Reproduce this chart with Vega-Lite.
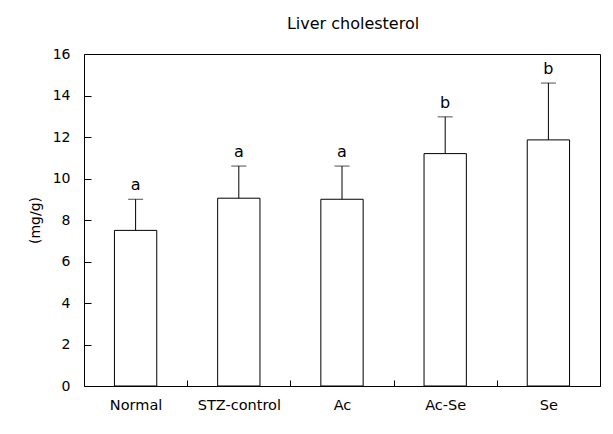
{
  "$schema": "https://vega.github.io/schema/vega-lite/v6.json",
  "width": 516,
  "height": 332,
  "autosize": {"type": "none"},
  "padding": {"left": 84, "top": 54, "right": 13, "bottom": 48},
  "background": "white",
  "title": {"text": "Liver cholesterol", "fontSize": 16, "fontWeight": "normal", "font": "DejaVu Sans", "color": "black", "offset": 15, "dx": 11},
  "data": {
    "values": [
      {"group": "Normal", "mean": 7.5, "upper": 9.0, "letter": "a"},
      {"group": "STZ-control", "mean": 9.05, "upper": 10.6, "letter": "a"},
      {"group": "Ac", "mean": 9.0, "upper": 10.6, "letter": "a"},
      {"group": "Ac-Se", "mean": 11.2, "upper": 12.97, "letter": "b"},
      {"group": "Se", "mean": 11.86, "upper": 14.6, "letter": "b"}
    ]
  },
  "encoding": {
    "x": {
      "field": "group", "type": "nominal", "sort": null,
      "scale": {"paddingInner": 0.59, "paddingOuter": 0.295},
      "axis": {"title": null, "labelAngle": 0, "ticks": true, "tickBand": "center", "tickOffset": 51.6, "labelOffset": -51.6, "tickSize": 6, "tickWidth": 1, "offset": -6, "domain": false, "labelPadding": 12, "labelFontSize": 14.5, "labelFont": "DejaVu Sans", "labelColor": "black", "tickColor": "black", "zindex": 1}
    }
  },
  "layer": [
    {
      "mark": {"type": "bar", "fill": "white", "stroke": "black", "strokeWidth": 1},
      "encoding": {
        "y": {
          "field": "mean", "type": "quantitative",
          "scale": {"domain": [0, 16], "nice": false},
          "axis": {"title": "(mg/g)", "values": [0, 2, 4, 6, 8, 10, 12, 14, 16], "grid": false, "ticks": true, "tickSize": 7, "tickWidth": 1, "offset": -7, "domain": false, "labelPadding": 14, "labelFontSize": 14, "labelFont": "DejaVu Sans", "labelColor": "black", "tickColor": "black", "zindex": 1, "titleFont": "DejaVu Sans", "titleFontSize": 14, "titleFontWeight": "normal", "titleColor": "black", "titlePadding": 10}
        }
      }
    },
    {
      "mark": {"type": "rule", "color": "black", "strokeWidth": 1},
      "encoding": {
        "y": {"field": "mean", "type": "quantitative"},
        "y2": {"field": "upper"}
      }
    },
    {
      "mark": {"type": "tick", "color": "black", "size": 15, "thickness": 1, "orient": "horizontal"},
      "encoding": {
        "y": {"field": "upper", "type": "quantitative"}
      }
    },
    {
      "mark": {"type": "text", "dy": -14, "fontSize": 16, "font": "DejaVu Sans", "color": "black"},
      "encoding": {
        "y": {"field": "upper", "type": "quantitative"},
        "text": {"field": "letter"}
      }
    }
  ],
  "config": {"view": {"stroke": "black", "strokeWidth": 1}}
}
